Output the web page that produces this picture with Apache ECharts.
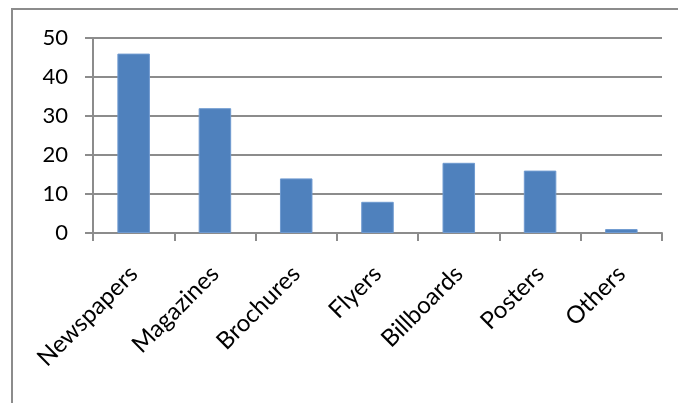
<!DOCTYPE html>
<html><head><meta charset="utf-8">
<script src="https://cdn.jsdelivr.net/npm/echarts@6/dist/echarts.min.js"></script>
<style>html,body{margin:0;padding:0;background:#fff}#c{width:678px;height:403px}</style>
</head><body><div id="c"></div>
<script>
const categories = ['Newspapers','Magazines','Brochures','Flyers','Billboards','Posters','Others'];
const values = [46, 32, 14, 8, 18, 16, 1];
const yTicks = [0, 10, 20, 30, 40, 50];

const chart = echarts.init(document.getElementById('c'), null, {renderer:'canvas'});
const font = 'Lato, "Open Sans", sans-serif';
chart.setOption({
  animation: false,
  graphic: [{type:'rect', shape:{x:12, y:9, width:700, height:430}, style:{fill:'none', stroke:'#8c8c8c', lineWidth:2}, z:-1}],
  grid: {left:93, right:16, top:38, bottom:170, containLabel:false},
  xAxis: {
    type:'category', data: categories,
    axisLine:{lineStyle:{color:'#8c8c8c', width:2}},
    axisTick:{show:true, length:8, lineStyle:{color:'#8c8c8c', width:2}},
    axisLabel:{rotate:45, fontFamily:font, fontSize:24, color:'#000', margin:37}
  },
  yAxis: {
    type:'value', min: yTicks[0], max: yTicks[yTicks.length-1], interval: 10,
    axisLine:{show:true, lineStyle:{color:'#8c8c8c', width:2}},
    axisTick:{show:true, length:8, lineStyle:{color:'#8c8c8c', width:2}},
    splitLine:{lineStyle:{color:'#8c8c8c', width:2}},
    axisLabel:{fontFamily:font, fontSize:22, color:'#000', margin:25}
  },
  series: [{
    type:'bar', data: values, barWidth:'40%',
    itemStyle:{color:'#4F81BD', borderColor:'#6f9ad0', borderWidth:1}
  }]
});
</script></body></html>
